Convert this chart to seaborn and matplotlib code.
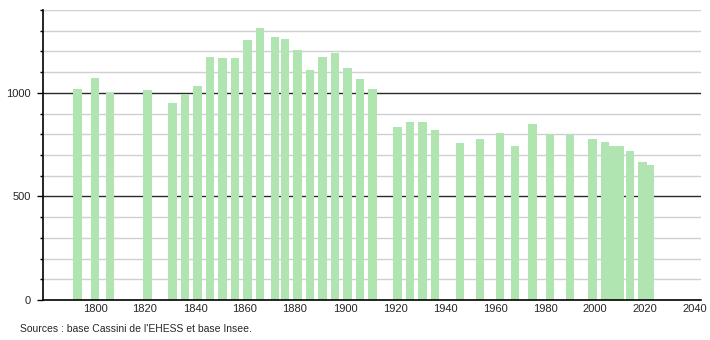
import matplotlib
matplotlib.use("Agg")
import matplotlib.pyplot as plt
import seaborn as sns
import pandas as pd
from matplotlib.ticker import MultipleLocator

years = [1793, 1800, 1806, 1821, 1831, 1836, 1841, 1846, 1851, 1856, 1861, 1866,
         1872, 1876, 1881, 1886, 1891, 1896, 1901, 1906, 1911, 1921, 1926, 1931,
         1936, 1946, 1954, 1962, 1968, 1975, 1982, 1990, 1999, 2004, 2007, 2010,
         2014, 2019, 2022]
population = [1020, 1070, 1000, 1015, 950, 995, 1035, 1175, 1170, 1170, 1255, 1315,
              1272, 1258, 1205, 1108, 1174, 1190, 1121, 1068, 1021, 835, 860, 860,
              822, 758, 777, 806, 745, 851, 801, 795, 776, 763, 742, 742,
              719, 664, 651]
y_major = [0, 500, 1000]
x_ticks = [1800, 1820, 1840, 1860, 1880, 1900, 1920, 1940, 1960, 1980, 2000, 2020, 2040]
source_text = "Sources : base Cassini de l'EHESS et base Insee."

df = pd.DataFrame({"year": years, "pop": population})

sns.set_style("white")
plt.rcParams['font.family'] = ['Liberation Sans', 'DejaVu Sans']

fig = plt.figure(figsize=(7.1, 3.4), dpi=100)
ax = fig.add_axes([43 / 710, 1 - 300 / 340, 658 / 710, 290 / 340])

# gridlines
for v in range(100, 1401, 100):
    if v in (500, 1000):
        ax.axhline(v, color="#2a2a2a", lw=1.0, zorder=1)
    else:
        ax.axhline(v, color="#d0d0d0", lw=1.0, zorder=1)

sns.barplot(data=df, x="year", y="pop", native_scale=True, width=1.07,
            color="#b0e4b0", saturation=1, edgecolor="none", ax=ax, zorder=2)

ax.set_xlim(1779.2, 2042.4)
ax.set_ylim(0, 1400)
ax.set_xticks(x_ticks)
ax.set_xticklabels([str(t) for t in x_ticks])
ax.set_yticks(y_major)
ax.set_yticklabels([str(t) for t in y_major])
ax.yaxis.set_minor_locator(MultipleLocator(100))
ax.tick_params(axis="y", which="major", length=4, width=1, color="black",
               labelsize=8, pad=5, left=True)
ax.tick_params(axis="y", which="minor", length=2.5, width=1, color="black", left=True)
ax.tick_params(axis="x", which="both", length=0, labelsize=8, pad=3)
ax.set_xlabel("")
ax.set_ylabel("")

for s in ("top", "right"):
    ax.spines[s].set_visible(False)
for s in ("left", "bottom"):
    ax.spines[s].set_color("black")
    ax.spines[s].set_linewidth(1.2)

fig.text(20 / 710, 1 - 329 / 340, source_text, fontsize=7.5, va="center", ha="left")

fig.savefig("out.png", dpi=100)
